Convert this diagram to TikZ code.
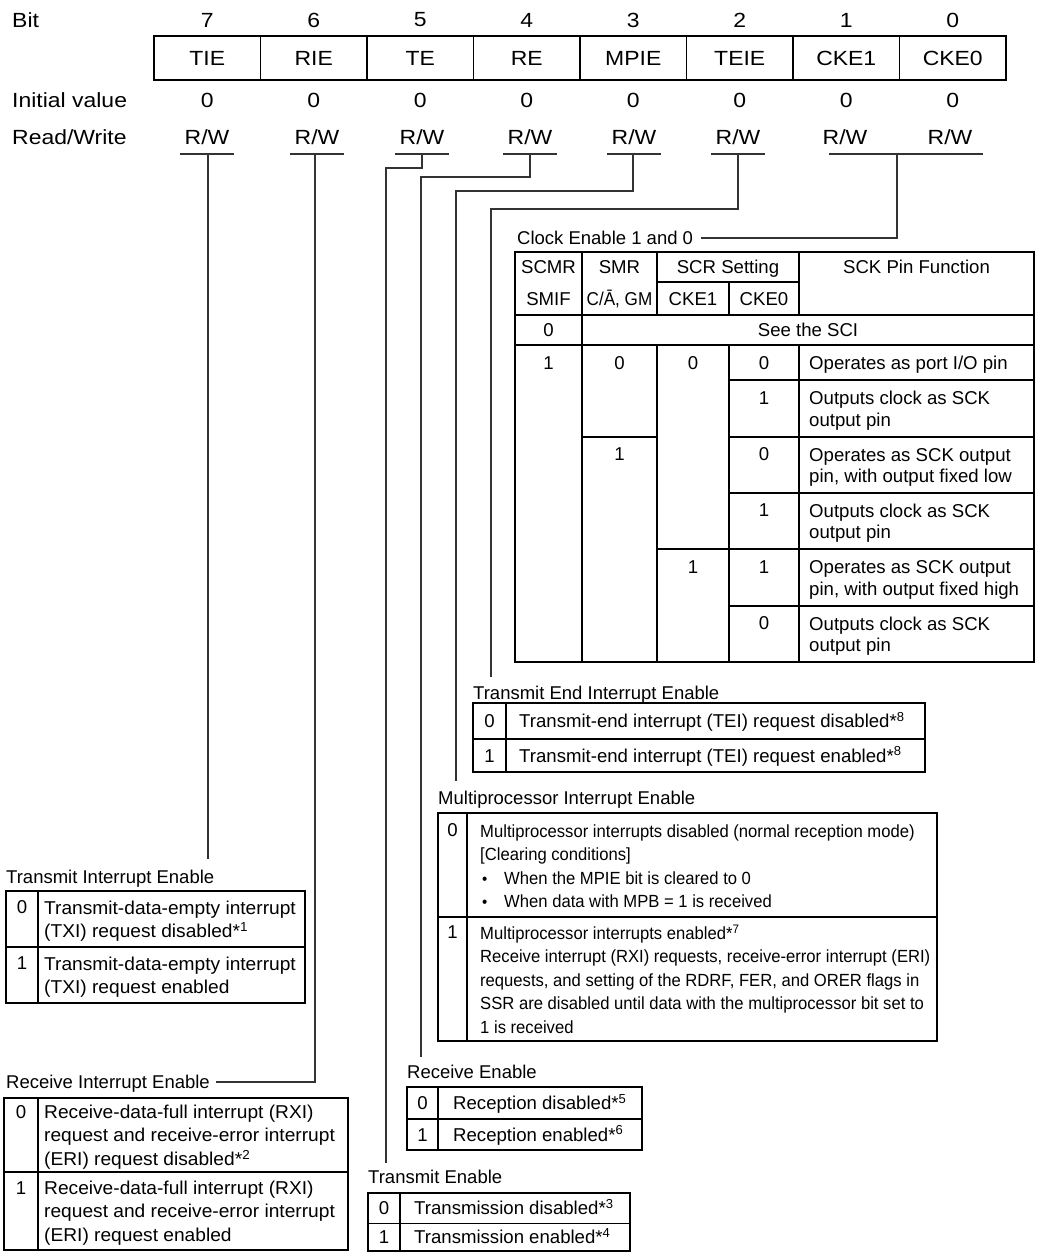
\documentclass[tikz,border=0pt]{standalone}
\usepackage{fontspec}
\setmainfont{Liberation Sans}
\newfontfamily\hdrfont[FakeStretch=1.12]{Liberation Sans}
\newfontfamily\mpfont[FakeStretch=0.945]{Liberation Sans}
\newfontfamily\wfont[FakeStretch=1.03]{Liberation Sans}
\newfontfamily\nfont[FakeStretch=0.92]{Liberation Sans}
\usetikzlibrary{calc}
\newcommand{\fnref}[1]{*\textsuperscript{#1}}
\newcommand{\bul}{\makebox[24pt][l]{\hspace*{2pt}\scalebox{0.9}{\textbullet}}}
\tikzset{
  hdr/.style={font=\hdrfont\fontsize{20.5pt}{24pt}\selectfont, inner sep=0pt},
  cell/.style={hdr, draw, line width=1.3pt, minimum width=106.5pt, minimum height=44pt},
  lbl/.style={font=\fontsize{18.5pt}{23.5pt}\selectfont, inner sep=0pt, anchor=base west},
  one/.style={font=\fontsize{18.6pt}{23.5pt}\selectfont, inner sep=0pt, anchor=base},
  onew/.style={one, anchor=base west},
  multi/.style={font=\fontsize{18.6pt}{23.5pt}\selectfont, inner sep=0pt, anchor=north west, align=left},
  wmulti/.style={multi, font=\wfont\fontsize{18.6pt}{23.5pt}\selectfont},
  mpmulti/.style={multi, font=\mpfont\fontsize{17.6pt}{23.5pt}\selectfont},
  cmulti/.style={font=\fontsize{18.6pt}{21.5pt}\selectfont, inner sep=0pt, anchor=north west, align=left},
  tbl/.style={line width=1.3pt},
  conn/.style={line width=1.2pt, draw=black!80},
}
\begin{document}
\begin{tikzpicture}[x=1pt,y=-1pt]
\useasboundingbox (0,0) rectangle (1038,1252);

% ---------------- header ----------------
\node[hdr, anchor=west] (bitlbl) at (12,20) {Bit};
\node[hdr, anchor=west] (initlbl) at (12,100) {Initial value};
\node[hdr, anchor=west] (rwlbl) at (12,137) {Read/Write};
\foreach \k/\b/\n in {0/7/TIE,1/6/RIE,2/5/TE,3/4/RE,4/3/MPIE,5/2/TEIE,6/1/CKE1,7/0/CKE0}{
  \pgfmathsetmacro\cx{207.25+106.5*\k}
  \node[hdr] (bit\b) at (\cx,20) {\b};
  \node[cell] (reg\b) at (\cx,58) {\n};
  \node[hdr] (init\b) at (\cx,100) {0};
}
\foreach \b/\x in {7/207,6/317,5/422,4/530,3/634,2/738,1/845,0/950}
  \node[hdr] (rw\b) at (\x,137) {R/W};
\foreach \x in {207,317,422,530,634,738}
  \draw[conn] (\x-27,154) -- (\x+27,154);
\draw[conn] (829,154) -- (983,154);

\coordinate (u7) at (208,154);
\coordinate (u6) at (315,154);
\coordinate (u5) at (422,154);
\coordinate (u4) at (530,154);
\coordinate (u3) at (633,154);
\coordinate (u2) at (738,154);
\coordinate (u10) at (897,154);
\coordinate (k5) at (386,168);
\coordinate (k4) at (421,177);
\coordinate (k3) at (456,191);
\coordinate (k2) at (491,209);

% ---------------- labels ----------------
\node[lbl] (cklbl) at (517,244.6) {Clock Enable 1 and 0};
\node[lbl] (teielbl) at (473,699.6) {Transmit End Interrupt Enable};
\node[lbl] (mpielbl) at (438,804.6) {Multiprocessor Interrupt Enable};
\node[lbl] (tielbl) at (6,883.6) {Transmit Interrupt Enable};
\node[lbl] (rielbl) at (6,1088.6) {Receive Interrupt Enable};
\node[lbl] (relbl) at (407,1078.6) {Receive Enable};
\node[lbl] (telbl) at (368,1183.6) {Transmit Enable};

% ---------------- connectors ----------------
\draw[conn] (u7) -- ($(u7 |- tielbl.base)+(0,-25)$);
\draw[conn] (u6) |- ($(rielbl.base east)+(6,-6.6)$);
\draw[conn] (u5) |- (k5) -- ($(k5 |- telbl.base)+(0,-21)$);
\draw[conn] (u4) |- (k4) -- ($(k4 |- relbl.base)+(0,-22)$);
\draw[conn] (u3) |- (k3) -- ($(k3 |- mpielbl.base)+(0,-24)$);
\draw[conn] (u2) |- (k2) -- ($(k2 |- teielbl.base)+(0,-23)$);
\draw[conn] (u10) |- ($(cklbl.base east)+(8,-6.6)$);

% ---------------- clock enable table ----------------
\draw[tbl] (515,252) rectangle (1034,662);
\draw[tbl] (582,252) -- (582,662);
\draw[tbl] (657,252) -- (657,315) (657,345) -- (657,662);
\draw[tbl] (729,282) -- (729,315) (729,345) -- (729,662);
\draw[tbl] (799,252) -- (799,315) (799,345) -- (799,662);
\draw[tbl] (657,282) -- (799,282);
\draw[tbl] (515,315) -- (1034,315) (515,345) -- (1034,345);
\draw[tbl] (729,380) -- (1034,380);
\draw[tbl] (582,437) -- (657,437) (729,437) -- (1034,437);
\draw[tbl] (729,493) -- (1034,493);
\draw[tbl] (657,549) -- (1034,549);
\draw[tbl] (729,606) -- (1034,606);

\node[one] (h1) at (548.5,273.65) {SCMR};
\node[one] (h2) at (619.5,273.65) {SMR};
\node[one] (h3) at (728,273.65) {SCR Setting};
\node[one] (h4) at (916.5,273.65) {SCK Pin Function};
\node[one] (s1) at (548.5,305.15) {SMIF};
\node[one, font=\nfont\fontsize{18.6pt}{23.5pt}\selectfont] (s2) at (619.5,305.15) {C/\=A, GM};
\node[one] (s3) at (693,305.15) {CKE1};
\node[one] (s4) at (764,305.15) {CKE0};
\node[one] (z0) at (548.5,336.65) {0};
\node[one] (zsci) at (808,336.65) {See the SCI};

\node[one] (a1) at (548.5,369.15) {1};
\node[one] (a2) at (619.5,369.15) {0};
\node[one] (a3) at (693,369.15) {0};
\node[one] (a4) at (764,369.15) {0};
\node[onew] (a5) at (809,369.15) {Operates as port I/O pin};

\node[one] (b4) at (764,404.4) {1};
\node[cmulti] (b5) at (809,389.4) {\strut Outputs clock as SCK\\output pin};

\node[one] (c2) at (619.5,460.9) {1};
\node[one] (c4) at (764,460.9) {0};
\node[cmulti] (c5) at (809,445.9) {\strut Operates as SCK output\\pin, with output fixed low};

\node[one] (d4) at (764,516.9) {1};
\node[cmulti] (d5) at (809,501.9) {\strut Outputs clock as SCK\\output pin};

\node[one] (e3) at (693,573.4) {1};
\node[one] (e4) at (764,573.4) {1};
\node[cmulti] (e5) at (809,558.4) {\strut Operates as SCK output\\pin, with output fixed high};

\node[one] (f4) at (764,629.9) {0};
\node[cmulti] (f5) at (809,614.9) {\strut Outputs clock as SCK\\output pin};

% ---------------- TEIE table ----------------
\draw[tbl] (473,703) rectangle (925,772);
\draw[tbl] (473,739) -- (925,739);
\draw[tbl] (506,703) -- (506,772);
\node[one] (teiev0) at (489.5,727.65) {0};
\node[onew] (teiet0) at (519,727.65) {Transmit-end interrupt (TEI) request disabled\fnref{8}};
\node[one] (teiev1) at (489.5,762.15) {1};
\node[onew] (teiet1) at (519,762.15) {Transmit-end interrupt (TEI) request enabled\fnref{8}};

% ---------------- MPIE table ----------------
\draw[tbl] (438,813) rectangle (937,1041);
\draw[tbl] (438,917) -- (937,917);
\draw[tbl] (467,813) -- (467,1041);
\node[one] (mpiev0) at (452.5,836.4) {0};
\node[mpmulti] (mpiet0) at (480,820.4) {\strut Multiprocessor interrupts disabled (normal reception mode)\\
{[}Clearing conditions{]}\\
\bul When the MPIE bit is cleared to 0\\
\bul When data with MPB = 1 is received};
\node[one] (mpiev1) at (452.5,938.65) {1};
\node[mpmulti] (mpiet1) at (480,922.65) {\strut Multiprocessor interrupts enabled\fnref{7}\\
Receive interrupt (RXI) requests, receive-error interrupt (ERI)\\
requests, and setting of the RDRF, FER, and ORER flags in\\
SSR are disabled until data with the multiprocessor bit set to\\
1 is received};

% ---------------- TIE table ----------------
\draw[tbl] (6,891) rectangle (305,1003);
\draw[tbl] (6,947) -- (305,947);
\draw[tbl] (38,891) -- (38,1003);
\node[one] (tiev0) at (22,913.9) {0};
\node[wmulti] (tiet0) at (44,897.45) {\strut Transmit-data-empty interrupt\\(TXI) request disabled\fnref{1}};
\node[one] (tiev1) at (22,969.9) {1};
\node[wmulti] (tiet1) at (44,953.45) {\strut Transmit-data-empty interrupt\\(TXI) request enabled};

% ---------------- RIE table ----------------
\draw[tbl] (4,1098) rectangle (348,1250);
\draw[tbl] (4,1172) -- (348,1172);
\draw[tbl] (38,1098) -- (38,1250);
\node[one] (riev0) at (21,1118.15) {0};
\node[wmulti] (riet0) at (44,1101.7) {\strut Receive-data-full interrupt (RXI)\\request and receive-error interrupt\\(ERI) request disabled\fnref{2}};
\node[one] (riev1) at (21,1194.15) {1};
\node[wmulti] (riet1) at (44,1177.7) {\strut Receive-data-full interrupt (RXI)\\request and receive-error interrupt\\(ERI) request enabled};

% ---------------- RE table ----------------
\draw[tbl] (407,1087) rectangle (642,1150);
\draw[tbl] (407,1119) -- (642,1119);
\draw[tbl] (438,1087) -- (438,1150);
\node[one] (rev0) at (422.5,1109.65) {0};
\node[onew] (ret0) at (453,1109.65) {Reception disabled\fnref{5}};
\node[one] (rev1) at (422.5,1141.15) {1};
\node[onew] (ret1) at (453,1141.15) {Reception enabled\fnref{6}};

% ---------------- TE table ----------------
\draw[tbl] (368,1193) rectangle (630,1251);
\draw[tbl] (368,1223.5) -- (630,1223.5);
\draw[tbl] (400,1193) -- (400,1251);
\node[one] (tev0) at (384,1214.9) {0};
\node[onew] (tet0) at (414,1214.9) {Transmission disabled\fnref{3}};
\node[one] (tev1) at (384,1243.9) {1};
\node[onew] (tet1) at (414,1243.9) {Transmission enabled\fnref{4}};
\end{tikzpicture}
\end{document}
